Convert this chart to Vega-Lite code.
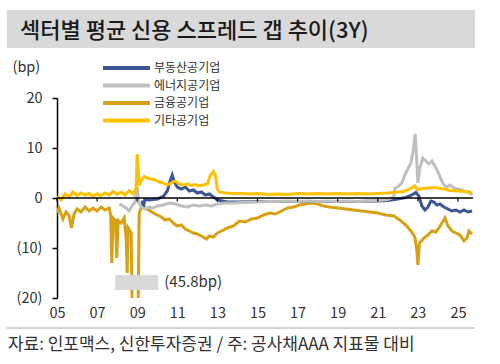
{
  "$schema": "https://vega.github.io/schema/vega-lite/v6.json",
  "width": 418,
  "height": 200,
  "autosize": "none",
  "padding": {"left": 57, "top": 98, "right": 25, "bottom": 66},
  "background": "white",
  "title": {"text": "섹터별 평균 신용 스프레드 갭 추이(3Y)", "anchor": "start", "frame": "group", "dx": -37, "dy": 41, "fontSize": 22, "font": "Noto Sans CJK KR", "fontWeight": 500, "color": "#1a1a1a", "offset": 8},
  "config": {
    "view": {"stroke": null},
    "font": "Noto Sans CJK KR",
    "axis": {"grid": false, "labelFont": "Noto Sans CJK KR", "labelColor": "#333333", "titleFont": "Noto Sans CJK KR"}
  },
  "datasets": {
    "series": [
      {"s":"금융공기업","t":2005.0,"v":-3.0},{"s":"금융공기업","t":2005.1,"v":-2.0},{"s":"금융공기업","t":2005.3,"v":-4.2},{"s":"금융공기업","t":2005.45,"v":-2.8},{"s":"금융공기업","t":2005.6,"v":-3.5},{"s":"금융공기업","t":2005.72,"v":-6.0},{"s":"금융공기업","t":2005.85,"v":-3.2},{"s":"금융공기업","t":2006.0,"v":-2.2},{"s":"금융공기업","t":2006.2,"v":-2.8},{"s":"금융공기업","t":2006.4,"v":-1.8},{"s":"금융공기업","t":2006.6,"v":-2.6},{"s":"금융공기업","t":2006.8,"v":-2.0},{"s":"금융공기업","t":2007.0,"v":-2.6},{"s":"금융공기업","t":2007.2,"v":-1.8},{"s":"금융공기업","t":2007.4,"v":-2.4},{"s":"금융공기업","t":2007.6,"v":-2.0},{"s":"금융공기업","t":2007.68,"v":-3.5},{"s":"금융공기업","t":2007.73,"v":-13.0},{"s":"금융공기업","t":2007.8,"v":-4.0},{"s":"금융공기업","t":2007.92,"v":-4.5},{"s":"금융공기업","t":2007.98,"v":-12.0},{"s":"금융공기업","t":2008.05,"v":-4.5},{"s":"금융공기업","t":2008.2,"v":-5.0},{"s":"금융공기업","t":2008.35,"v":-4.0},{"s":"금융공기업","t":2008.45,"v":-8.0},{"s":"금융공기업","t":2008.5,"v":-15.0},{"s":"금융공기업","t":2008.55,"v":-6.0},{"s":"금융공기업","t":2008.7,"v":-7.0},{"s":"금융공기업","t":2008.82,"v":-45.8},{"s":"금융공기업","t":2009.02,"v":-30.0},{"s":"금융공기업","t":2009.1,"v":-3.0},{"s":"금융공기업","t":2009.25,"v":-1.5},{"s":"금융공기업","t":2009.45,"v":-2.2},{"s":"금융공기업","t":2009.6,"v":-2.4},{"s":"금융공기업","t":2009.8,"v":-3.0},{"s":"금융공기업","t":2010.0,"v":-3.4},{"s":"금융공기업","t":2010.2,"v":-3.8},{"s":"금융공기업","t":2010.4,"v":-4.4},{"s":"금융공기업","t":2010.6,"v":-4.2},{"s":"금융공기업","t":2010.8,"v":-5.0},{"s":"금융공기업","t":2011.0,"v":-5.6},{"s":"금융공기업","t":2011.2,"v":-5.4},{"s":"금융공기업","t":2011.4,"v":-6.2},{"s":"금융공기업","t":2011.6,"v":-6.6},{"s":"금융공기업","t":2011.8,"v":-7.0},{"s":"금융공기업","t":2012.0,"v":-7.2},{"s":"금융공기업","t":2012.2,"v":-7.6},{"s":"금융공기업","t":2012.45,"v":-8.2},{"s":"금융공기업","t":2012.6,"v":-7.6},{"s":"금융공기업","t":2012.8,"v":-7.8},{"s":"금융공기업","t":2013.0,"v":-7.0},{"s":"금융공기업","t":2013.2,"v":-6.6},{"s":"금융공기업","t":2013.5,"v":-6.0},{"s":"금융공기업","t":2013.8,"v":-5.6},{"s":"금융공기업","t":2014.1,"v":-4.6},{"s":"금융공기업","t":2014.4,"v":-4.8},{"s":"금융공기업","t":2014.7,"v":-4.2},{"s":"금융공기업","t":2015.0,"v":-4.0},{"s":"금융공기업","t":2015.3,"v":-3.4},{"s":"금융공기업","t":2015.6,"v":-3.0},{"s":"금융공기업","t":2015.9,"v":-3.2},{"s":"금융공기업","t":2016.2,"v":-2.6},{"s":"금융공기업","t":2016.5,"v":-2.0},{"s":"금융공기업","t":2016.8,"v":-1.8},{"s":"금융공기업","t":2017.1,"v":-1.4},{"s":"금융공기업","t":2017.4,"v":-1.2},{"s":"금융공기업","t":2017.7,"v":-1.0},{"s":"금융공기업","t":2018.0,"v":-1.2},{"s":"금융공기업","t":2018.3,"v":-1.6},{"s":"금융공기업","t":2018.6,"v":-1.8},{"s":"금융공기업","t":2019.0,"v":-2.0},{"s":"금융공기업","t":2019.4,"v":-2.2},{"s":"금융공기업","t":2019.8,"v":-2.4},{"s":"금융공기업","t":2020.2,"v":-2.6},{"s":"금융공기업","t":2020.6,"v":-2.8},{"s":"금융공기업","t":2021.0,"v":-3.0},{"s":"금융공기업","t":2021.4,"v":-3.4},{"s":"금융공기업","t":2021.8,"v":-3.6},{"s":"금융공기업","t":2022.1,"v":-4.4},{"s":"금융공기업","t":2022.4,"v":-5.4},{"s":"금융공기업","t":2022.65,"v":-6.6},{"s":"금융공기업","t":2022.85,"v":-7.8},{"s":"금융공기업","t":2022.95,"v":-10.5},{"s":"금융공기업","t":2023.0,"v":-13.4},{"s":"금융공기업","t":2023.08,"v":-9.0},{"s":"금융공기업","t":2023.3,"v":-8.0},{"s":"금융공기업","t":2023.5,"v":-7.4},{"s":"금융공기업","t":2023.7,"v":-6.6},{"s":"금융공기업","t":2023.9,"v":-6.8},{"s":"금융공기업","t":2024.05,"v":-6.0},{"s":"금융공기업","t":2024.2,"v":-5.0},{"s":"금융공기업","t":2024.35,"v":-4.0},{"s":"금융공기업","t":2024.5,"v":-5.6},{"s":"금융공기업","t":2024.7,"v":-6.6},{"s":"금융공기업","t":2024.9,"v":-7.0},{"s":"금융공기업","t":2025.1,"v":-7.4},{"s":"금융공기업","t":2025.3,"v":-8.6},{"s":"금융공기업","t":2025.45,"v":-8.0},{"s":"금융공기업","t":2025.55,"v":-6.6},{"s":"금융공기업","t":2025.7,"v":-7.2},
      {"s":"부동산공기업","t":2009.25,"v":-0.5},{"s":"부동산공기업","t":2009.3,"v":-2.0},{"s":"부동산공기업","t":2009.38,"v":-0.3},{"s":"부동산공기업","t":2009.6,"v":-0.4},{"s":"부동산공기업","t":2010.0,"v":-0.2},{"s":"부동산공기업","t":2010.3,"v":0.3},{"s":"부동산공기업","t":2010.5,"v":1.4},{"s":"부동산공기업","t":2010.65,"v":3.5},{"s":"부동산공기업","t":2010.75,"v":4.6},{"s":"부동산공기업","t":2010.85,"v":3.2},{"s":"부동산공기업","t":2011.0,"v":2.2},{"s":"부동산공기업","t":2011.2,"v":1.8},{"s":"부동산공기업","t":2011.4,"v":2.2},{"s":"부동산공기업","t":2011.6,"v":1.4},{"s":"부동산공기업","t":2011.8,"v":1.6},{"s":"부동산공기업","t":2012.0,"v":1.0},{"s":"부동산공기업","t":2012.2,"v":1.2},{"s":"부동산공기업","t":2012.4,"v":0.6},{"s":"부동산공기업","t":2012.6,"v":0.8},{"s":"부동산공기업","t":2012.8,"v":0.2},{"s":"부동산공기업","t":2013.0,"v":-0.4},{"s":"부동산공기업","t":2013.5,"v":-0.8},{"s":"부동산공기업","t":2014.0,"v":-0.8},{"s":"부동산공기업","t":2015.0,"v":-0.7},{"s":"부동산공기업","t":2016.0,"v":-0.7},{"s":"부동산공기업","t":2017.0,"v":-0.7},{"s":"부동산공기업","t":2018.0,"v":-0.7},{"s":"부동산공기업","t":2019.0,"v":-0.7},{"s":"부동산공기업","t":2020.0,"v":-0.7},{"s":"부동산공기업","t":2021.0,"v":-0.6},{"s":"부동산공기업","t":2021.5,"v":-0.5},{"s":"부동산공기업","t":2022.0,"v":-0.2},{"s":"부동산공기업","t":2022.4,"v":0.1},{"s":"부동산공기업","t":2022.7,"v":0.6},{"s":"부동산공기업","t":2022.9,"v":1.1},{"s":"부동산공기업","t":2023.05,"v":0.4},{"s":"부동산공기업","t":2023.2,"v":-1.6},{"s":"부동산공기업","t":2023.35,"v":-2.4},{"s":"부동산공기업","t":2023.5,"v":-1.8},{"s":"부동산공기업","t":2023.65,"v":-0.6},{"s":"부동산공기업","t":2023.8,"v":-0.8},{"s":"부동산공기업","t":2023.95,"v":-1.4},{"s":"부동산공기업","t":2024.1,"v":-1.2},{"s":"부동산공기업","t":2024.3,"v":-1.8},{"s":"부동산공기업","t":2024.5,"v":-2.2},{"s":"부동산공기업","t":2024.7,"v":-2.6},{"s":"부동산공기업","t":2024.9,"v":-2.4},{"s":"부동산공기업","t":2025.1,"v":-2.8},{"s":"부동산공기업","t":2025.3,"v":-2.4},{"s":"부동산공기업","t":2025.5,"v":-2.8},{"s":"부동산공기업","t":2025.7,"v":-2.6},
      {"s":"에너지공기업","t":2008.1,"v":-1.2},{"s":"에너지공기업","t":2008.3,"v":-1.6},{"s":"에너지공기업","t":2008.45,"v":-2.0},{"s":"에너지공기업","t":2008.6,"v":-2.6},{"s":"에너지공기업","t":2008.75,"v":-1.5},{"s":"에너지공기업","t":2008.9,"v":-0.8},{"s":"에너지공기업","t":2009.0,"v":2.2},{"s":"에너지공기업","t":2009.08,"v":-1.0},{"s":"에너지공기업","t":2009.2,"v":-1.8},{"s":"에너지공기업","t":2009.4,"v":-2.2},{"s":"에너지공기업","t":2009.6,"v":-1.8},{"s":"에너지공기업","t":2009.8,"v":-2.0},{"s":"에너지공기업","t":2010.0,"v":-1.6},{"s":"에너지공기업","t":2010.3,"v":-1.4},{"s":"에너지공기업","t":2010.6,"v":-1.0},{"s":"에너지공기업","t":2010.9,"v":-1.2},{"s":"에너지공기업","t":2011.2,"v":-1.6},{"s":"에너지공기업","t":2011.5,"v":-1.8},{"s":"에너지공기업","t":2011.8,"v":-1.4},{"s":"에너지공기업","t":2012.1,"v":-1.6},{"s":"에너지공기업","t":2012.4,"v":-1.4},{"s":"에너지공기업","t":2012.7,"v":-1.6},{"s":"에너지공기업","t":2013.0,"v":-1.2},{"s":"에너지공기업","t":2013.4,"v":-1.0},{"s":"에너지공기업","t":2013.8,"v":-1.0},{"s":"에너지공기업","t":2014.2,"v":-0.9},{"s":"에너지공기업","t":2014.6,"v":-0.8},{"s":"에너지공기업","t":2015.0,"v":-0.8},{"s":"에너지공기업","t":2015.5,"v":-0.7},{"s":"에너지공기업","t":2016.0,"v":-0.7},{"s":"에너지공기업","t":2016.5,"v":-0.6},{"s":"에너지공기업","t":2017.0,"v":-0.7},{"s":"에너지공기업","t":2017.5,"v":-0.6},{"s":"에너지공기업","t":2018.0,"v":-0.7},{"s":"에너지공기업","t":2018.5,"v":-0.6},{"s":"에너지공기업","t":2019.0,"v":-0.7},{"s":"에너지공기업","t":2019.5,"v":-0.6},{"s":"에너지공기업","t":2020.0,"v":-0.7},{"s":"에너지공기업","t":2020.5,"v":-0.6},{"s":"에너지공기업","t":2021.0,"v":-0.5},{"s":"에너지공기업","t":2021.5,"v":-0.3},{"s":"에너지공기업","t":2021.8,"v":0.2},{"s":"에너지공기업","t":2021.85,"v":2.0},{"s":"에너지공기업","t":2022.0,"v":2.2},{"s":"에너지공기업","t":2022.2,"v":3.0},{"s":"에너지공기업","t":2022.35,"v":4.6},{"s":"에너지공기업","t":2022.5,"v":5.8},{"s":"에너지공기업","t":2022.65,"v":7.0},{"s":"에너지공기업","t":2022.75,"v":9.0},{"s":"에너지공기업","t":2022.87,"v":12.8},{"s":"에너지공기업","t":2022.95,"v":7.0},{"s":"에너지공기업","t":2023.0,"v":3.0},{"s":"에너지공기업","t":2023.1,"v":6.0},{"s":"에너지공기업","t":2023.25,"v":8.0},{"s":"에너지공기업","t":2023.4,"v":7.4},{"s":"에너지공기업","t":2023.55,"v":6.8},{"s":"에너지공기업","t":2023.7,"v":7.4},{"s":"에너지공기업","t":2023.85,"v":6.4},{"s":"에너지공기업","t":2024.0,"v":5.2},{"s":"에너지공기업","t":2024.15,"v":3.8},{"s":"에너지공기업","t":2024.3,"v":2.6},{"s":"에너지공기업","t":2024.45,"v":2.2},{"s":"에너지공기업","t":2024.6,"v":2.6},{"s":"에너지공기업","t":2024.8,"v":2.0},{"s":"에너지공기업","t":2025.0,"v":1.8},{"s":"에너지공기업","t":2025.2,"v":1.6},{"s":"에너지공기업","t":2025.4,"v":1.2},{"s":"에너지공기업","t":2025.55,"v":1.3},{"s":"에너지공기업","t":2025.7,"v":0.6},
      {"s":"기타공기업","t":2005.0,"v":0.3},{"s":"기타공기업","t":2005.2,"v":-0.4},{"s":"기타공기업","t":2005.4,"v":0.8},{"s":"기타공기업","t":2005.6,"v":0.2},{"s":"기타공기업","t":2005.8,"v":1.2},{"s":"기타공기업","t":2006.0,"v":0.5},{"s":"기타공기업","t":2006.2,"v":1.0},{"s":"기타공기업","t":2006.4,"v":0.6},{"s":"기타공기업","t":2006.6,"v":0.9},{"s":"기타공기업","t":2006.8,"v":0.4},{"s":"기타공기업","t":2007.0,"v":0.8},{"s":"기타공기업","t":2007.2,"v":0.5},{"s":"기타공기업","t":2007.4,"v":1.0},{"s":"기타공기업","t":2007.6,"v":0.6},{"s":"기타공기업","t":2007.8,"v":1.3},{"s":"기타공기업","t":2008.0,"v":0.7},{"s":"기타공기업","t":2008.2,"v":1.2},{"s":"기타공기업","t":2008.4,"v":0.6},{"s":"기타공기업","t":2008.6,"v":1.5},{"s":"기타공기업","t":2008.8,"v":0.8},{"s":"기타공기업","t":2008.95,"v":2.0},{"s":"기타공기업","t":2009.0,"v":8.8},{"s":"기타공기업","t":2009.05,"v":6.0},{"s":"기타공기업","t":2009.1,"v":2.5},{"s":"기타공기업","t":2009.2,"v":3.5},{"s":"기타공기업","t":2009.35,"v":4.3},{"s":"기타공기업","t":2009.5,"v":4.0},{"s":"기타공기업","t":2009.7,"v":3.8},{"s":"기타공기업","t":2009.9,"v":3.6},{"s":"기타공기업","t":2010.1,"v":3.2},{"s":"기타공기업","t":2010.3,"v":3.0},{"s":"기타공기업","t":2010.5,"v":2.6},{"s":"기타공기업","t":2010.7,"v":3.0},{"s":"기타공기업","t":2010.9,"v":3.4},{"s":"기타공기업","t":2011.1,"v":2.8},{"s":"기타공기업","t":2011.3,"v":2.6},{"s":"기타공기업","t":2011.5,"v":2.8},{"s":"기타공기업","t":2011.7,"v":2.5},{"s":"기타공기업","t":2011.9,"v":2.7},{"s":"기타공기업","t":2012.1,"v":2.4},{"s":"기타공기업","t":2012.3,"v":2.6},{"s":"기타공기업","t":2012.5,"v":2.8},{"s":"기타공기업","t":2012.65,"v":4.5},{"s":"기타공기업","t":2012.8,"v":5.3},{"s":"기타공기업","t":2012.9,"v":4.5},{"s":"기타공기업","t":2013.0,"v":1.8},{"s":"기타공기업","t":2013.1,"v":1.2},{"s":"기타공기업","t":2013.4,"v":1.0},{"s":"기타공기업","t":2013.8,"v":0.9},{"s":"기타공기업","t":2014.2,"v":0.9},{"s":"기타공기업","t":2014.6,"v":0.8},{"s":"기타공기업","t":2015.0,"v":0.9},{"s":"기타공기업","t":2015.5,"v":0.7},{"s":"기타공기업","t":2016.0,"v":0.8},{"s":"기타공기업","t":2016.5,"v":0.7},{"s":"기타공기업","t":2017.0,"v":0.9},{"s":"기타공기업","t":2017.5,"v":0.8},{"s":"기타공기업","t":2018.0,"v":0.9},{"s":"기타공기업","t":2018.5,"v":0.8},{"s":"기타공기업","t":2019.0,"v":0.9},{"s":"기타공기업","t":2019.5,"v":0.8},{"s":"기타공기업","t":2020.0,"v":0.9},{"s":"기타공기업","t":2020.5,"v":0.8},{"s":"기타공기업","t":2021.0,"v":0.9},{"s":"기타공기업","t":2021.5,"v":1.0},{"s":"기타공기업","t":2022.0,"v":1.2},{"s":"기타공기업","t":2022.3,"v":1.3},{"s":"기타공기업","t":2022.6,"v":1.8},{"s":"기타공기업","t":2022.85,"v":2.4},{"s":"기타공기업","t":2023.0,"v":1.6},{"s":"기타공기업","t":2023.2,"v":1.9},{"s":"기타공기업","t":2023.5,"v":2.0},{"s":"기타공기업","t":2023.8,"v":2.1},{"s":"기타공기업","t":2024.0,"v":2.0},{"s":"기타공기업","t":2024.3,"v":1.8},{"s":"기타공기업","t":2024.6,"v":1.5},{"s":"기타공기업","t":2025.0,"v":1.4},{"s":"기타공기업","t":2025.4,"v":1.3},{"s":"기타공기업","t":2025.7,"v":1.0}
    ],
    "years": [{"yr":2005},{"yr":2007},{"yr":2009},{"yr":2011},{"yr":2013},{"yr":2015},{"yr":2017},{"yr":2019},{"yr":2021},{"yr":2023},{"yr":2025}],
    "one": [{}]
  },
  "layer": [
    {
      "data": {"name": "one"},
      "mark": {"type": "rect", "color": "#d9d9d9"},
      "encoding": {
        "x": {"datum": 2002.5, "type": "quantitative"},
        "x2": {"datum": 2025.85},
        "y": {"datum": 37.6, "type": "quantitative"},
        "y2": {"datum": 30.0}
      }
    },
    {
      "data": {"name": "series"},
      "mark": {"type": "line", "strokeWidth": 3, "clip": true},
      "encoding": {
        "x": {"field": "t", "type": "quantitative", "scale": {"domain": [2005, 2025.85], "nice": false, "zero": false},
              "axis": {"title": null, "values": [2005,2007,2009,2011,2013,2015,2017,2019,2021,2023,2025], "labelExpr": "substring(toString(datum.value), 2)", "labelFlush": false, "domain": false, "ticks": false, "labelPadding": 8, "labelFontSize": 14.5, "labelColor": "#333333"}},
        "y": {"field": "v", "type": "quantitative", "scale": {"domain": [-20, 20], "nice": false},
              "axis": {"title": "(bp)", "titleAngle": 0, "titleAlign": "left", "titleBaseline": "middle", "titleX": -45, "titleY": -31, "titleFontSize": 14.5, "titleFontWeight": "normal", "titleColor": "#333333",
                       "values": [-20,-10,0,10,20], "labelExpr": "datum.value < 0 ? '(' + abs(datum.value) + ')' : datum.value", "domainColor": "#000000", "domainWidth": 1.5, "tickColor": "#000000", "tickWidth": 1.5, "tickSize": 5, "labelPadding": 10, "labelFontSize": 14.5, "labelColor": "#333333"}},
        "color": {"field": "s", "type": "nominal",
                  "scale": {"domain": ["부동산공기업", "에너지공기업", "금융공기업", "기타공기업"], "range": ["#3e5597", "#bfbfbf", "#d6a114", "#ffc000"]},
                  "legend": {"title": null, "orient": "none", "legendX": 44, "legendY": -37, "symbolType": "stroke", "symbolSize": 2200, "symbolStrokeWidth": 4, "clipHeight": 14, "labelFontSize": 12, "labelColor": "#333333", "labelOffset": 2, "rowPadding": 3.5}}
      }
    },
    {
      "data": {"name": "one"},
      "mark": {"type": "rule", "color": "#000000", "strokeWidth": 1.5},
      "encoding": {
        "x": {"datum": 2005, "type": "quantitative"},
        "x2": {"datum": 2025.75},
        "y": {"datum": 0, "type": "quantitative"}
      }
    },
    {
      "data": {"name": "years"},
      "mark": {"type": "rule", "color": "#000000", "strokeWidth": 1.2},
      "encoding": {
        "x": {"field": "yr", "type": "quantitative"},
        "y": {"datum": 0, "type": "quantitative"},
        "y2": {"datum": -0.7}
      }
    },
    {
      "data": {"name": "one"},
      "mark": {"type": "rect", "color": "#d9d9d9"},
      "encoding": {
        "x": {"datum": 2007.9, "type": "quantitative"},
        "x2": {"datum": 2010.05},
        "y": {"datum": -15.4, "type": "quantitative"},
        "y2": {"datum": -18.4}
      }
    },
    {
      "data": {"name": "one"},
      "mark": {"type": "text", "text": "(45.8bp)", "align": "left", "baseline": "middle", "fontSize": 15, "color": "#333333"},
      "encoding": {
        "x": {"datum": 2010.35, "type": "quantitative"},
        "y": {"datum": -16.8, "type": "quantitative"}
      }
    },
    {
      "data": {"name": "one"},
      "mark": {"type": "rule", "color": "#a6a6a6", "strokeWidth": 1},
      "encoding": {
        "x": {"datum": 2002.5, "type": "quantitative"},
        "x2": {"datum": 2025.85},
        "y": {"datum": -26, "type": "quantitative"}
      }
    },
    {
      "data": {"name": "one"},
      "mark": {"type": "text", "text": "자료: 인포맥스, 신한투자증권 / 주: 공사채AAA 지표물 대비", "align": "left", "baseline": "middle", "fontSize": 17, "color": "#333333"},
      "encoding": {
        "x": {"datum": 2002.55, "type": "quantitative"},
        "y": {"datum": -29.4, "type": "quantitative"}
      }
    }
  ]
}
